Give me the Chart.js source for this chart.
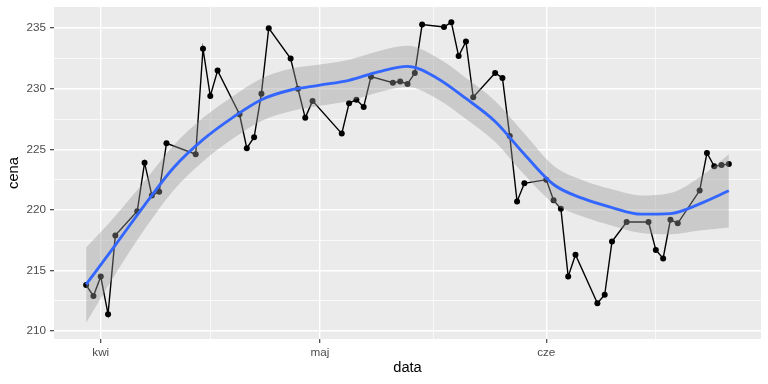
<!DOCTYPE html>
<html>
  <head>
    <meta charset="utf-8" />
    <script src="https://cdn.jsdelivr.net/npm/chart.js"></script>
    <style>
      html, body {
        margin: 0;
        padding: 0;
        background: #ffffff;
      }
      canvas {
        display: block;
      }
    </style>
  </head>
  <body>
    <canvas id="chart" width="768" height="384"></canvas>
    <script>
      // days counted from 1 April (kwi = 0)
      const days = [
        -2, -1, 0, 1, 2, 5, 6, 7, 8, 9, 13, 14, 15, 16, 19, 20, 21, 22, 23, 26,
        27, 28, 29, 33, 34, 35, 36, 37, 40, 41, 42, 43, 44, 47, 48, 49, 50, 51,
        54, 55, 56, 57, 58, 61, 62, 63, 64, 65, 68, 69, 70, 72, 75, 76, 77, 78,
        79, 82, 83, 84, 85, 86,
      ];
      const cena = [
        213.8, 212.9, 214.5, 211.4, 217.9, 219.9, 223.9, 221.2, 221.5, 225.5,
        224.6, 233.3, 229.4, 231.5, 227.9, 225.1, 226.0, 229.6, 235.0, 232.5,
        230.0, 227.6, 229.0, 226.3, 228.8, 229.1, 228.5, 231.0, 230.5, 230.6,
        230.4, 231.3, 235.3, 235.1, 235.5, 232.7, 233.9, 229.3, 231.3, 230.9,
        226.1, 220.7, 222.2, 222.5, 220.8, 220.1, 214.5, 216.3, 212.3, 213.0,
        217.4, 219.0, 219.0, 216.7, 216.0, 219.2, 218.9, 221.6, 224.7, 223.6,
        223.7, 223.8,
      ];

      // loess smooth and its confidence band
      const smoothDays = [
        -2, 2, 6, 10, 14, 18, 22, 26, 30, 34, 38, 42, 46, 50, 54, 58, 62, 66,
        70, 74, 78, 82, 86,
      ];
      const smoothFit = [
        213.85, 217.1, 220.4, 223.5, 225.8, 227.6, 229.1, 229.9, 230.3, 230.7,
        231.4, 231.85, 230.9, 229.2, 227.3, 224.6, 222.1, 220.95, 220.2, 219.65,
        219.7, 220.5, 221.58,
      ];
      const smoothUpper = [
        216.9, 219.5, 222.4, 225.35, 227.6, 229.35, 230.85, 231.65, 232.0,
        232.4, 233.1, 233.55, 232.6, 230.9, 229.0, 226.3, 223.65, 222.45,
        221.7, 221.2, 221.4, 222.7, 224.6,
      ];
      const smoothLower = [
        210.7, 214.7, 218.4, 221.65, 224.0, 225.85, 227.35, 228.15, 228.6,
        229.0, 229.7, 230.15, 229.2, 227.5, 225.6, 222.9, 220.55, 219.45,
        218.7, 218.1, 218.0, 218.3, 218.55,
      ];

      const xTickDays = [0, 30, 61];
      const xTickLabels = ["kwi", "maj", "cze"];
      const xMinorDays = [15, 45.5, 76];
      const yTicks = [210, 215, 220, 225, 230, 235];
      const yMinor = [212.5, 217.5, 222.5, 227.5, 232.5];

      const toPoints = (xs, ys) => xs.map((x, i) => ({ x: x, y: ys[i] }));

      const panelBackground = {
        id: "panelBackground",
        beforeDraw(chart) {
          const { ctx, chartArea } = chart;
          ctx.save();
          ctx.fillStyle = "#EBEBEB";
          ctx.fillRect(
            chartArea.left,
            chartArea.top,
            chartArea.right - chartArea.left,
            chartArea.bottom - chartArea.top
          );
          ctx.restore();
        },
      };

      const isMajorX = (v) => xTickDays.includes(v);
      const isMajorY = (v) => yTicks.includes(v);
      const font = { family: "'Liberation Sans', Arial, sans-serif", size: 11.7 };
      const titleFont = { family: "'Liberation Sans', Arial, sans-serif", size: 14.7 };

      new Chart(document.getElementById("chart"), {
        type: "line",
        data: {
          datasets: [
            {
              data: toPoints(days, cena),
              borderColor: "#000000",
              borderWidth: 1.4,
              pointRadius: 3,
              pointBorderWidth: 0,
              pointBackgroundColor: "#000000",
              tension: 0,
              order: 10,
            },
            {
              data: toPoints(smoothDays, smoothUpper),
              borderWidth: 0,
              pointRadius: 0,
              backgroundColor: "rgba(153,153,153,0.4)",
              fill: "+1",
              cubicInterpolationMode: "monotone",
              order: 5,
            },
            {
              data: toPoints(smoothDays, smoothLower),
              borderWidth: 0,
              pointRadius: 0,
              fill: false,
              cubicInterpolationMode: "monotone",
              order: 5,
            },
            {
              data: toPoints(smoothDays, smoothFit),
              borderColor: "#3366FF",
              borderWidth: 2.85,
              pointRadius: 0,
              fill: false,
              cubicInterpolationMode: "monotone",
              order: 1,
            },
          ],
        },
        options: {
          responsive: false,
          animation: false,
          devicePixelRatio: 1,
          layout: { padding: { top: 7, right: 7, left: 0, bottom: 0 } },
          plugins: {
            legend: { display: false },
            tooltip: { enabled: false },
          },
          scales: {
            x: {
              type: "linear",
              min: -6.4,
              max: 90.4,
              afterBuildTicks: (scale) => {
                scale.ticks = xTickDays
                  .concat(xMinorDays)
                  .sort((a, b) => a - b)
                  .map((v) => ({ value: v }));
              },
              afterFit: (scale) => {
                scale.height = 45;
                scale.paddingLeft = 0;
                scale.paddingRight = 0;
              },
              ticks: {
                autoSkip: false,
                maxRotation: 0,
                padding: 3,
                color: "#4D4D4D",
                font: font,
                callback: (v) => {
                  const i = xTickDays.indexOf(v);
                  return i >= 0 ? xTickLabels[i] : "";
                },
              },
              grid: {
                color: "#FFFFFF",
                lineWidth: (c) => (isMajorX(c.tick.value) ? 1.42 : 0.71),
                tickLength: 4,
                tickColor: (c) => (isMajorX(c.tick.value) ? "#333333" : "rgba(0,0,0,0)"),
                tickWidth: 1.1,
              },
              border: { display: false },
              title: {
                display: true,
                text: "data",
                color: "#000000",
                font: titleFont,
                padding: { top: 0, bottom: 7 },
              },
            },
            y: {
              min: 209.35,
              max: 236.75,
              afterBuildTicks: (scale) => {
                scale.ticks = yTicks
                  .concat(yMinor)
                  .sort((a, b) => a - b)
                  .map((v) => ({ value: v }));
              },
              afterFit: (scale) => {
                scale.width = 54;
                scale.paddingTop = 0;
                scale.paddingBottom = 0;
              },
              ticks: {
                autoSkip: false,
                padding: 4,
                color: "#4D4D4D",
                font: font,
                callback: (v) => (isMajorY(v) ? String(v) : ""),
              },
              grid: {
                color: "#FFFFFF",
                lineWidth: (c) => (isMajorY(c.tick.value) ? 1.42 : 0.71),
                tickLength: 4,
                tickColor: (c) => (isMajorY(c.tick.value) ? "#333333" : "rgba(0,0,0,0)"),
                tickWidth: 1.1,
              },
              border: { display: false },
              title: {
                display: true,
                text: "cena",
                color: "#000000",
                font: titleFont,
                padding: { top: 5, bottom: 0 },
              },
            },
          },
        },
        plugins: [panelBackground],
      });
    </script>
  </body>
</html>
